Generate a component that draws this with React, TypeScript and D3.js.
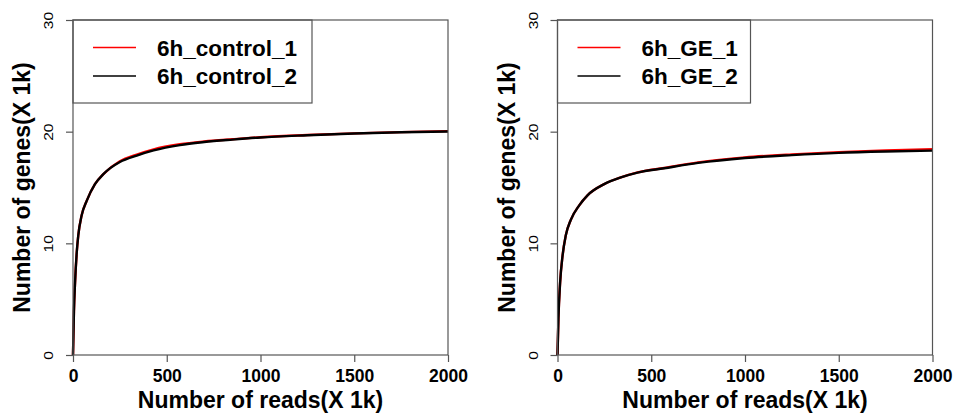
import React, { useEffect, useRef } from 'react';
import * as d3 from 'd3';

const ctrlX = [0, 5, 11, 20, 28, 46, 73, 117, 162, 250, 340, 430, 570, 700, 850, 1000, 1250, 1500, 1750, 2000];
const ctrl1 = [0, 3.9, 6.5, 9.2, 10.7, 12.5, 13.8, 15.3, 16.2, 17.35, 17.95, 18.42, 18.87, 19.12, 19.32, 19.5, 19.7, 19.85, 19.96, 20.05];
const ctrl2 = [0, 3.9, 6.5, 9.2, 10.7, 12.5, 13.8, 15.3, 16.2, 17.28, 17.86, 18.32, 18.8, 19.07, 19.29, 19.48, 19.68, 19.84, 19.95, 20.02];

const geX = [0, 5, 14, 27, 44, 71, 116, 160, 249, 338, 427, 569, 750, 1000, 1250, 1500, 1750, 2000];
const ge1 = [0, 3.3, 6.5, 8.9, 10.7, 12.1, 13.4, 14.3, 15.3, 15.9, 16.35, 16.75, 17.25, 17.7, 17.97, 18.17, 18.32, 18.42];
const ge2 = [0, 3.3, 6.5, 8.9, 10.7, 12.1, 13.4, 14.3, 15.3, 15.9, 16.33, 16.72, 17.2, 17.64, 17.9, 18.1, 18.22, 18.3];

const xTicks = [0, 500, 1000, 1500, 2000];
const yTicks = [0, 10, 20, 30];

const panels = [
  { left: 73, xs: ctrlX, series: [ctrl1, ctrl2], names: ['6h_control_1', '6h_control_2'], legendW: 239 },
  { left: 557.5, xs: geX, series: [ge1, ge2], names: ['6h_GE_1', '6h_GE_2'], legendW: 193 },
];
const colors = ['#ff0000', '#000000'];

const width = 954;
const height = 417;
const plotW = 375;
const top = 20;
const bottom = 355;
const font = '"Liberation Sans", Arial, sans-serif';
const grey = '#555';

export default function App() {
  const svgRef = useRef<SVGSVGElement>(null);

  useEffect(() => {
    if (!svgRef.current) return;
    const svg = d3.select(svgRef.current);
    svg.selectAll('*').remove();

    panels.forEach(p => {
      const x = d3.scaleLinear().domain([0, 2000]).range([p.left, p.left + plotW]);
      const y = d3.scaleLinear().domain([0, 30]).range([bottom, top]);

      const g = svg.append('g');

      // curves, red first so black sits on top
      const line = d3.line<[number, number]>()
        .x(d => x(d[0]))
        .y(d => y(d[1]))
        .curve(d3.curveMonotoneX);
      p.series.forEach((vals, i) => {
        g.append('path')
          .datum(p.xs.map((v, j) => [v, vals[j]] as [number, number]))
          .attr('d', line)
          .attr('fill', 'none')
          .attr('stroke', colors[i])
          .attr('stroke-width', 2.4);
      });

      // box
      g.append('rect')
        .attr('x', p.left).attr('y', top)
        .attr('width', plotW).attr('height', bottom - top)
        .attr('fill', 'none').attr('stroke', grey).attr('stroke-width', 1.2);

      // x axis
      const xa = g.append('g')
        .attr('transform', `translate(0,${bottom})`)
        .call(d3.axisBottom(x).tickValues(xTicks).tickFormat(d3.format('d')).tickSize(7).tickSizeOuter(0));
      xa.select('.domain').remove();
      xa.selectAll('line').attr('stroke', grey).attr('stroke-width', 1.2);
      xa.selectAll('text')
        .attr('y', 27).attr('dy', null)
        .attr('fill', '#000')
        .style('font', `bold 17.5px ${font}`);

      // y axis, labels parallel to the axis
      const ya = g.append('g')
        .attr('transform', `translate(${p.left},0)`)
        .call(d3.axisLeft(y).tickValues(yTicks).tickFormat(d3.format('d')).tickSize(7).tickSizeOuter(0));
      ya.select('.domain').remove();
      ya.selectAll('line').attr('stroke', grey).attr('stroke-width', 1.2);
      ya.selectAll('text')
        .attr('x', null).attr('dy', null)
        .attr('text-anchor', 'middle')
        .attr('transform', 'translate(-20,0) rotate(-90) scale(1.25,1)')
        .attr('fill', '#000')
        .style('font', `12.5px ${font}`);

      // titles
      g.append('text')
        .attr('x', p.left + plotW / 2).attr('y', 408)
        .attr('text-anchor', 'middle')
        .style('font', `bold 23px ${font}`)
        .text('Number of reads(X 1k)');
      g.append('text')
        .attr('transform', `translate(${p.left - 43},${(top + bottom) / 2}) rotate(-90)`)
        .attr('text-anchor', 'middle')
        .style('font', `bold 23px ${font}`)
        .text('Number of genes(X 1k)');

      // legend
      const lg = g.append('g').attr('transform', `translate(${p.left},${top})`);
      lg.append('rect')
        .attr('width', p.legendW).attr('height', 83)
        .attr('fill', 'none').attr('stroke', grey).attr('stroke-width', 1.2);
      p.names.forEach((name, i) => {
        const ly = 27.5 + i * 28.5;
        lg.append('line')
          .attr('x1', 20).attr('x2', 63)
          .attr('y1', ly).attr('y2', ly)
          .attr('stroke', colors[i]).attr('stroke-width', 1.6);
        lg.append('text')
          .attr('x', 84).attr('y', ly + 8)
          .style('font', `bold 22.5px ${font}`)
          .text(name);
      });
    });
  }, []);

  return (
    <div style={{ position: 'absolute', left: 0, top: 0 }}>
      <svg ref={svgRef} width={width} height={height} style={{ display: 'block', background: '#fff' }} />
    </div>
  );
}
